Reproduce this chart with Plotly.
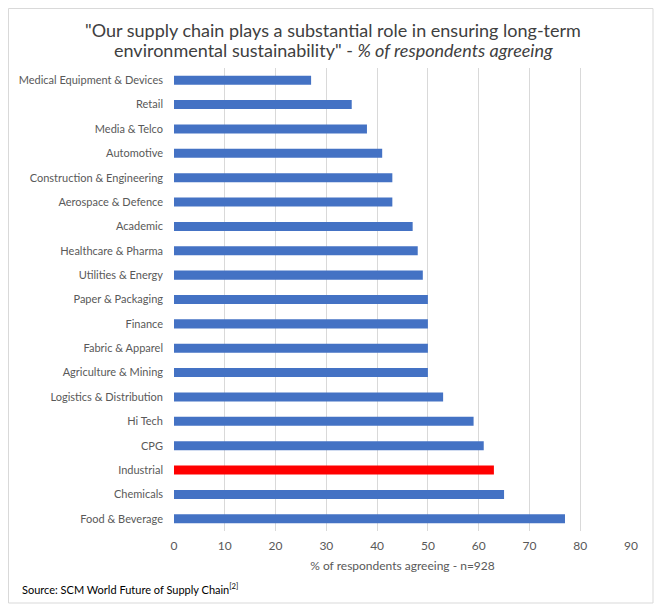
import plotly.graph_objects as go

categories = [
    "Medical Equipment & Devices", "Retail", "Media & Telco", "Automotive",
    "Construction & Engineering", "Aerospace & Defence", "Academic",
    "Healthcare & Pharma", "Utilities & Energy", "Paper & Packaging",
    "Finance", "Fabric & Apparel", "Agriculture & Mining",
    "Logistics & Distribution", "Hi Tech", "CPG", "Industrial",
    "Chemicals", "Food & Beverage",
]
values = [27, 35, 38, 41, 43, 43, 47, 48, 49, 50, 50, 50, 50, 53, 59, 61, 63, 65, 77]
highlight = "Industrial"
x_ticks = [0, 10, 20, 30, 40, 50, 60, 70, 80, 90]
title_lines = [
    '"Our supply chain plays a substantial role in ensuring long-term',
    'environmental sustainability" - <i>% of respondents agreeing</i>',
]

BLUE = "#4472C4"
RED = "#FF0000"
colors = [RED if c == highlight else BLUE for c in categories]

# page is offset by 8px body margin; positions below are in figure pixels
W, H = 665, 612
L, T = 166, 60
pw, ph = 457, 463
R = W - L - pw
B = H - T - ph

def px_x(p):
    return (p - L) / pw

def px_y(p):
    return (T + ph - p) / ph

fig = go.Figure(go.Bar(
    x=values, y=categories, orientation="h",
    marker=dict(color=colors, line=dict(width=0)),
    width=0.37,
))

FONT = "Lato"
title_ann = [
    dict(text=t, xref="paper", yref="paper", x=px_x(325), y=px_y(yy),
         xanchor="center", yanchor="middle", showarrow=False,
         font=dict(family=FONT, size=18, color="#404040"))
    for t, yy in zip(title_lines, [22, 42])
]

fig.update_layout(
    width=W, height=H,
    margin=dict(l=L, r=R, t=T, b=B),
    paper_bgcolor="white", plot_bgcolor="white",
    showlegend=False,
    font=dict(family=FONT, color="#595959", size=11),
    xaxis=dict(
        range=[0, 90], tickvals=x_ticks, showgrid=True, gridcolor="#D9D9D9",
        gridwidth=1, zeroline=False, showline=False, ticks="",
        ticklabelstandoff=6,
        tickfont=dict(size=12, color="#595959"),
        title=dict(text="% of respondents agreeing - n=928",
                   font=dict(size=12, color="#595959"), standoff=9),
    ),
    yaxis=dict(
        categoryorder="array", categoryarray=categories, autorange="reversed",
        showgrid=False, zeroline=False, showline=False, ticks="",
        ticklabelstandoff=10,
        tickfont=dict(size=11, color="#595959"),
    ),
    shapes=[
        dict(type="rect", xref="paper", yref="paper",
             x0=px_x(0.5), x1=px_x(645), y0=px_y(595), y1=px_y(0.5),
             line=dict(color="#D9D9D9", width=1), fillcolor="rgba(0,0,0,0)",
             layer="below"),
    ],
    annotations=title_ann + [
        dict(text="Source: SCM World Future of Supply Chain<sup>[2]</sup>",
             xref="paper", yref="paper", x=px_x(12), y=px_y(580),
             xanchor="left", yanchor="middle", showarrow=False,
             font=dict(size=11, color="#000000", family=FONT)),
    ],
)

fig.write_html("out.html")
